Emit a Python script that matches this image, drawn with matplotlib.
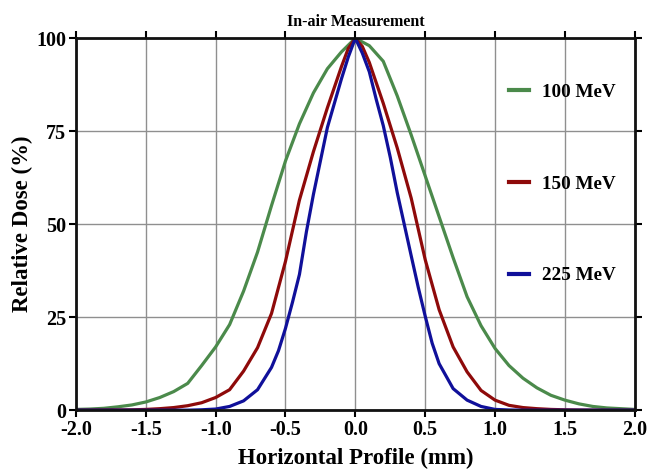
import matplotlib
matplotlib.use("Agg")
import matplotlib.pyplot as plt

plt.rcParams['font.family'] = ['Liberation Serif', 'DejaVu Serif']
plt.rcParams['font.weight'] = 'bold'

# profiles (x in mm, relative dose in %)
x_100 = [-2.0, -1.9, -1.8, -1.7, -1.6, -1.5, -1.4, -1.3, -1.2, -1.1, -1.0,
         -0.9, -0.8, -0.7, -0.6, -0.5, -0.4, -0.3, -0.2, -0.1, 0.0,
         0.1, 0.2, 0.3, 0.4, 0.5, 0.6, 0.7, 0.8, 0.9, 1.0,
         1.1, 1.2, 1.3, 1.4, 1.5, 1.6, 1.7, 1.8, 1.9, 2.0]
dose_100 = [0.2, 0.3, 0.5, 0.9, 1.4, 2.2, 3.4, 5.0, 7.2, 12.0, 17.0,
            23.0, 32.0, 42.5, 55.0, 67.0, 77.0, 85.3, 91.8, 96.3, 100.0,
            98.0, 93.8, 84.5, 74.0, 63.0, 52.0, 41.0, 30.5, 22.7, 16.6,
            12.0, 8.6, 6.0, 4.0, 2.7, 1.7, 1.0, 0.6, 0.4, 0.2]

x_150 = [-2.0, -1.8, -1.6, -1.5, -1.4, -1.3, -1.2, -1.1, -1.0,
         -0.9, -0.8, -0.7, -0.6, -0.5, -0.4, -0.3, -0.2, -0.1, -0.05, 0.0,
         0.05, 0.1, 0.2, 0.3, 0.4, 0.5, 0.6, 0.7, 0.8, 0.9, 1.0,
         1.1, 1.2, 1.3, 1.4, 1.5, 1.6, 1.8, 2.0]
dose_150 = [0.0, 0.05, 0.1, 0.2, 0.4, 0.7, 1.2, 2.0, 3.4,
            5.5, 10.5, 16.8, 26.0, 40.0, 56.5, 69.5, 81.3, 92.3, 97.3, 100.0,
            97.8, 93.5, 82.5, 70.5, 57.0, 40.5, 27.0, 17.0, 10.3, 5.3, 2.7,
            1.3, 0.7, 0.4, 0.2, 0.1, 0.05, 0.0, 0.0]

x_225 = [-2.0, -1.6, -1.2, -1.1, -1.0, -0.9, -0.8, -0.7, -0.6, -0.55,
         -0.5, -0.45, -0.4, -0.35, -0.3, -0.25, -0.2, -0.15, -0.1, -0.05, 0.0,
         0.05, 0.1, 0.15, 0.2, 0.25, 0.3, 0.35, 0.4, 0.45, 0.5,
         0.55, 0.6, 0.7, 0.8, 0.9, 1.0, 1.1, 1.2, 1.6, 2.0]
dose_225 = [0.0, 0.0, 0.0, 0.1, 0.3, 1.0, 2.5, 5.5, 11.5, 16.0,
            22.0, 29.0, 36.5, 48.0, 58.0, 67.0, 76.0, 82.5, 89.0, 95.0, 100.0,
            96.0, 91.0, 83.5, 76.5, 68.0, 58.5, 50.0, 41.5, 33.1, 25.3,
            18.0, 12.5, 5.8, 2.7, 1.0, 0.2, 0.05, 0.0, 0.0, 0.0]

labels = ['100 MeV', '150 MeV', '225 MeV']
colors = ['#4b8a4b', '#8e0a0a', '#10109a']

fig = plt.figure(figsize=(6.49, 4.72), dpi=100)
ax = fig.add_axes([0.117, 0.131, 0.861, 0.788])

ax.plot(x_100, dose_100, color=colors[0], lw=2.3, label=labels[0])
ax.plot(x_150, dose_150, color=colors[1], lw=2.3, label=labels[1])
ax.plot(x_225, dose_225, color=colors[2], lw=2.3, label=labels[2])

ax.set_xlim(-2.0, 2.0)
ax.set_ylim(0, 100)
ax.set_xticks([-2.0, -1.5, -1.0, -0.5, 0.0, 0.5, 1.0, 1.5, 2.0])
ax.set_xticklabels(['%.1f' % v for v in ax.get_xticks()])
ax.set_yticks([0, 25, 50, 75, 100])
ax.grid(True, color='#8f8f8f', lw=1.0)
ax.set_axisbelow(True)

for s in ax.spines.values():
    s.set_linewidth(2.0)
    s.set_color('#111111')
ax.tick_params(direction='out', length=5, width=1.5, labelsize=14.5, pad=2,
               top=True, right=True, labeltop=False, labelright=False)

ax.set_xlabel('Horizontal Profile (mm)', fontsize=16.5, fontweight='bold', labelpad=6)
ax.set_ylabel('Relative Dose (%)', fontsize=16.5, fontweight='bold', labelpad=2)
ax.set_title('In-air Measurement', fontsize=11.5, fontweight='bold', pad=9)

leg = ax.legend(loc='upper right', bbox_to_anchor=(0.997, 0.925), frameon=False,
                fontsize=13.8, handlelength=1.05, handletextpad=0.7,
                labelspacing=3.88)
for h in leg.get_lines():
    h.set_linewidth(3.0)

fig.savefig('out.png', dpi=100)
